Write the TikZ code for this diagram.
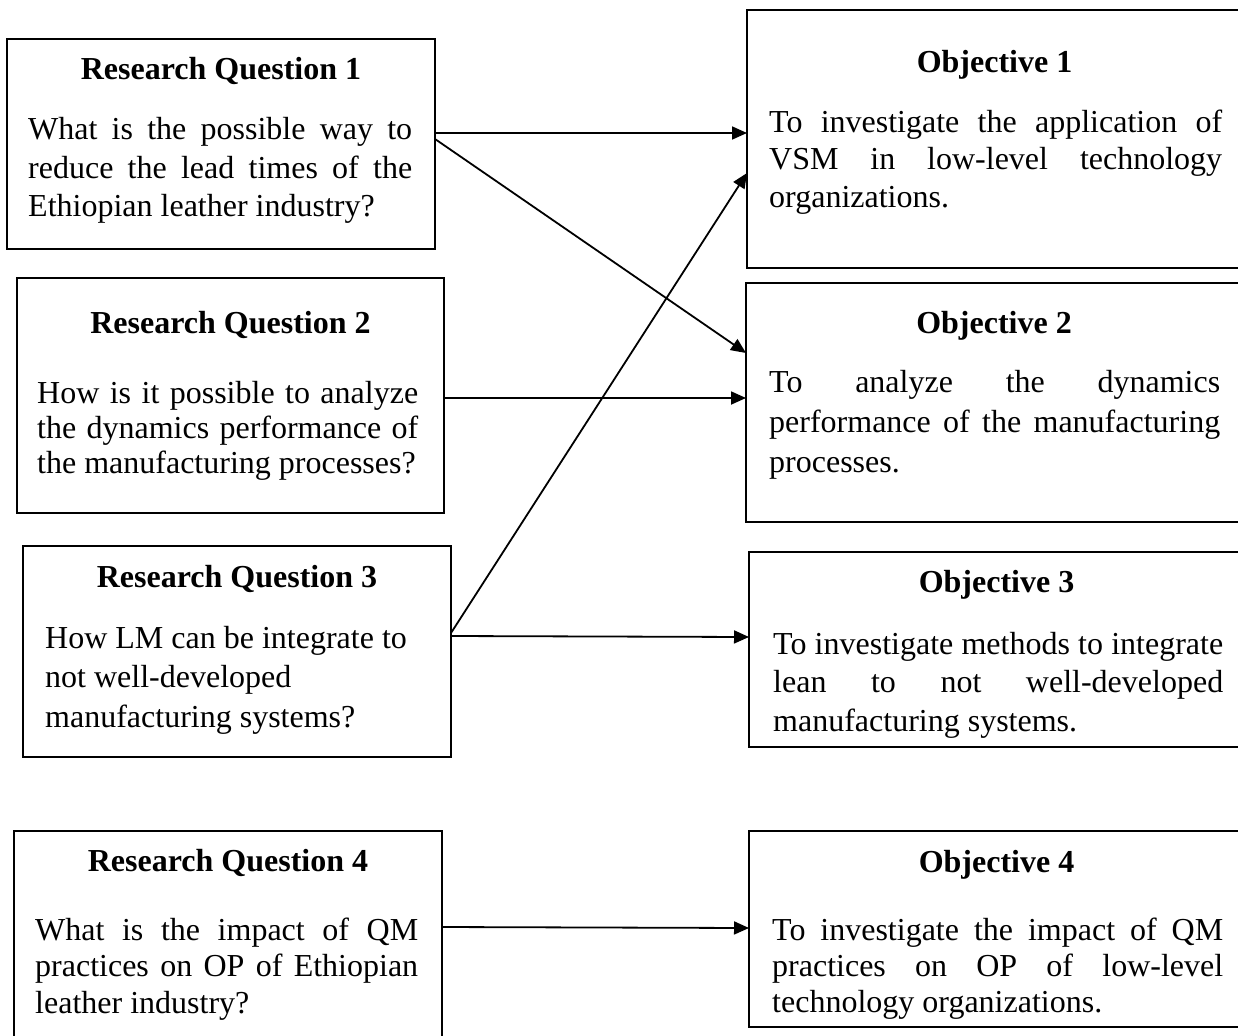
\documentclass[tikz,border=0pt]{standalone}
\usepackage{fontspec}
\setmainfont{Liberation Serif}
\usetikzlibrary{arrows.meta}

% one justified line of fixed width, and a block of stacked lines
\newcommand\jline[1]{\hbox to\hsize{\spaceskip=0.25em plus 1fil\relax #1}}
\newcommand\nline[1]{\hbox{#1}}
\newcommand\textlines[3]{\vtop{\hsize=#1\relax\baselineskip=#2\relax\lineskiplimit=-50pt #3}}

\tikzset{
  frame/.style={draw=black, line width=2pt, inner sep=0pt, outer sep=0pt},
  title/.style={font=\fontsize{32}{38}\selectfont\bfseries, inner sep=0pt, anchor=base},
  body/.style={font=\fontsize{32}{38}\selectfont\frenchspacing, inner sep=0pt, anchor=base west},
  link/.style={line width=1.8pt, -{Triangle[length=15pt,width=13pt]}},
}

\begin{document}
\begin{tikzpicture}[x=1pt,y=-1pt]
\useasboundingbox[fill=white] (0,0) rectangle (1238,1035);

% question boxes
\node[frame, minimum width=428pt, minimum height=210pt] (rq1) at (221,144) {};
\node[frame, minimum width=427pt, minimum height=235pt] (rq2) at (230.5,395.5) {};
\node[frame, minimum width=428pt, minimum height=211pt] (rq3) at (237,651.5) {};
\node[frame, minimum width=428pt, minimum height=220pt] (rq4) at (228,941) {};

% objective boxes
\node[frame, minimum width=495pt, minimum height=258pt] (ob1) at (994.5,139) {};
\node[frame, minimum width=496pt, minimum height=239pt] (ob2) at (994,402.5) {};
\node[frame, minimum width=495pt, minimum height=195pt] (ob3) at (996.5,649.5) {};
\node[frame, minimum width=495pt, minimum height=196pt] (ob4) at (996.5,929) {};

% titles
\node[title] (rq1t) at (221,80) {Research Question 1};
\node[title] (rq2t) at (230.5,333) {Research Question 2};
\node[title] (rq3t) at (237,587) {Research Question 3};
\node[title] (rq4t) at (228,871) {Research Question 4};
\node[title] (ob1t) at (994.5,73) {Objective 1};
\node[title] (ob2t) at (994,333) {Objective 2};
\node[title] (ob3t) at (996.5,592) {Objective 3};
\node[title] (ob4t) at (996.5,872) {Objective 4};

% question texts
\node[body] (rq1b) at (28,140) {\textlines{384pt}{38.5pt}{%
  \jline{What is the possible way to}
  \jline{reduce the lead times of the}
  \nline{Ethiopian leather industry?}}};
\node[body] (rq2b) at (37,403) {\textlines{381pt}{35pt}{%
  \jline{How is it possible to analyze}
  \jline{the dynamics performance of}
  \nline{the manufacturing processes?}}};
\node[body] (rq3b) at (45,648) {\textlines{383pt}{39.5pt}{%
  \nline{How LM can be integrate to}
  \nline{not well-developed}
  \nline{manufacturing systems?}}};
\node[body] (rq4b) at (35,940) {\textlines{383pt}{36.5pt}{%
  \jline{What is the impact of QM}
  \jline{practices on OP of Ethiopian}
  \nline{leather industry?}}};

% objective texts
\node[body] (ob1b) at (769,133) {\textlines{453pt}{37pt}{%
  \jline{To investigate the application of}
  \jline{VSM in low-level technology}
  \nline{organizations.}}};
\node[body] (ob2b) at (769,392) {\textlines{451pt}{40pt}{%
  \jline{To analyze the dynamics}
  \jline{performance of the manufacturing}
  \nline{processes.}}};
\node[body] (ob3b) at (773,654) {\textlines{450pt}{38.5pt}{%
  \jline{To investigate methods to integrate}
  \jline{lean to not well-developed}
  \nline{manufacturing systems.}}};
\node[body] (ob4b) at (772,940) {\textlines{451pt}{36pt}{%
  \jline{To investigate the impact of QM}
  \jline{practices on OP of low-level}
  \nline{technology organizations.}}};

% connectors
\draw[link] (rq1.east |- 0,133) -- (ob1.west |- 0,133);
\draw[link] (rq1.east |- 0,139) -- (ob2.west |- 0,353);
\draw[link] (rq2.east |- 0,398) -- (ob2.west |- 0,398);
\draw[link] (rq3.east |- 0,633) -- (ob1.west |- 0,173);
\draw[link] (rq3.east |- 0,636) -- (ob3.west |- 0,637);
\draw[link] (rq4.east |- 0,927) -- (ob4.west |- 0,928);
\end{tikzpicture}
\end{document}
